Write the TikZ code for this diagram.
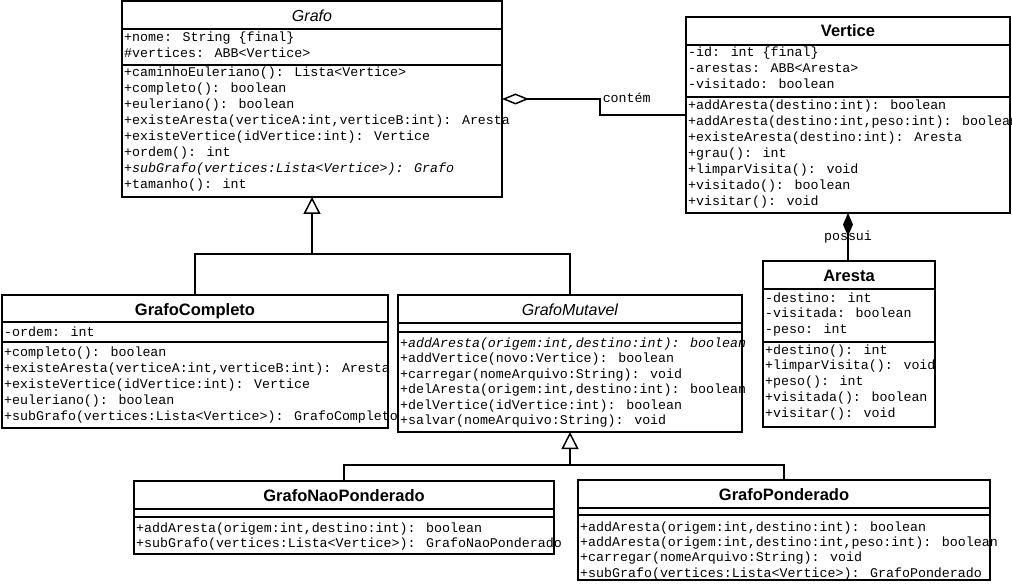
\documentclass[tikz,border=0pt]{standalone}
\usepackage{fontspec}
\setmainfont{Liberation Sans}
\newfontfamily\umlmono{Liberation Mono}
\usetikzlibrary{
    calc,
    positioning,
    arrows.meta
}
\tikzset{
    umlbox/.style={draw, line width=1.5pt, rectangle, anchor=north west, inner sep=0pt, outer sep=0pt},
    umlsep/.style={line width=1.5pt},
    umltitle/.style={font=\fontsize{16.5}{18}\selectfont\bfseries, anchor=base, inner sep=0pt},
    umlabstract/.style={font=\fontsize{16}{18}\selectfont\itshape, anchor=base, inner sep=0pt},
    umlmember/.style={font=\umlmono\fontsize{13.3}{16}\selectfont, anchor=base west, inner sep=0pt},
    umllink/.style={line width=1.5pt},
    inherit/.style={umllink, -{Triangle[open, length=17pt, width=17pt]}},
    aggreg/.style={umllink, {Diamond[open, length=27pt, width=11pt]}-},
    compos/.style={umllink, {Diamond[length=23pt, width=10pt]}-},
}
\begin{document}
\begin{tikzpicture}[x=1pt, y=-1pt]
    \useasboundingbox (0,0) rectangle (1012,585);
    % class boxes
    \node[umlbox, minimum width=380pt, minimum height=196pt] (grafo) at (122,1) {};
    \node[umlbox, minimum width=324pt, minimum height=196pt] (vertice) at (686,17) {};
    \node[umlbox, minimum width=172pt, minimum height=166pt] (aresta) at (763,261) {};
    \node[umlbox, minimum width=386pt, minimum height=133pt] (gcompleto) at (2,295) {};
    \node[umlbox, minimum width=344pt, minimum height=137pt] (gmutavel) at (398,295) {};
    \node[umlbox, minimum width=420pt, minimum height=73pt] (gnaopond) at (134,481) {};
    \node[umlbox, minimum width=412pt, minimum height=100pt] (gpond) at (578,480) {};
    % titles
    \node[umlabstract] (grafo-t) at ($(grafo.north)+(0,20.5)$) {Grafo};
    \node[umltitle] (vertice-t) at ($(vertice.north)+(0,20)$) {Vertice};
    \node[umltitle] (aresta-t) at ($(aresta.north)+(0,20.5)$) {Aresta};
    \node[umltitle] (gcompleto-t) at ($(gcompleto.north)+(0,21)$) {GrafoCompleto};
    \node[umlabstract] (gmutavel-t) at ($(gmutavel.north)+(0,21)$) {GrafoMutavel};
    \node[umltitle] (gnaopond-t) at ($(gnaopond.north)+(0,20.5)$) {GrafoNaoPonderado};
    \node[umltitle] (gpond-t) at ($(gpond.north)+(0,20.5)$) {GrafoPonderado};
    % compartments
    \draw[umlsep] (122,29) -- (502,29) (122,65) -- (502,65);
    \draw[umlsep] (686,45) -- (1010,45) (686,97) -- (1010,97);
    \draw[umlsep] (763,289) -- (935,289) (763,342) -- (935,342);
    \draw[umlsep] (2,322) -- (388,322) (2,342) -- (388,342);
    \draw[umlsep] (398,323) -- (742,323) (398,332) -- (742,332);
    \draw[umlsep] (134,509) -- (554,509) (134,517) -- (554,517);
    \draw[umlsep] (578,508) -- (990,508) (578,515) -- (990,515);
    % Grafo
    \foreach \m [count=\i] in {+nome: String \{final\}, \#vertices: ABB<Vertice>}
        \node[umlmember] (grafo-a\i) at (124,26+16*\i) {\m};
    \foreach \m [count=\i] in {+caminhoEuleriano(): Lista<Vertice>, +completo(): boolean, +euleriano(): boolean,
        {+existeAresta(verticeA:int,verticeB:int): Aresta}, +existeVertice(idVertice:int): Vertice, +ordem(): int,
        {\itshape +subGrafo(vertices:Lista<Vertice>): Grafo}, +tamanho(): int}
        \node[umlmember] (grafo-m\i) at (124,61+16*\i) {\m};
    % Vertice
    \foreach \m [count=\i] in {-id: int \{final\}, -arestas: ABB<Aresta>, -visitado: boolean}
        \node[umlmember] (vertice-a\i) at (688,41+16*\i) {\m};
    \foreach \m [count=\i] in {+addAresta(destino:int): boolean, {+addAresta(destino:int,peso:int): boolean},
        +existeAresta(destino:int): Aresta, +grau(): int, +limparVisita(): void, +visitado(): boolean, +visitar(): void}
        \node[umlmember] (vertice-m\i) at (688,94+16*\i) {\m};
    % Aresta
    \foreach \m [count=\i] in {-destino: int, -visitada: boolean, -peso: int}
        \node[umlmember] (aresta-a\i) at (765,286+16*\i) {\m};
    \foreach \m [count=\i] in {+destino(): int, +limparVisita(): void, +peso(): int, +visitada(): boolean, +visitar(): void}
        \node[umlmember] (aresta-m\i) at (765,338.2+15.8*\i) {\m};
    % GrafoCompleto
    \node[umlmember] (gcompleto-a1) at (4,337) {-ordem: int};
    \foreach \m [count=\i] in {+completo(): boolean, {+existeAresta(verticeA:int,verticeB:int): Aresta},
        +existeVertice(idVertice:int): Vertice, +euleriano(): boolean, +subGrafo(vertices:Lista<Vertice>): GrafoCompleto}
        \node[umlmember] (gcompleto-m\i) at (4,340+16*\i) {\m};
    % GrafoMutavel
    \foreach \m [count=\i] in {{\itshape +addAresta(origem:int,destino:int): boolean}, +addVertice(novo:Vertice): boolean,
        +carregar(nomeArquivo:String): void, {+delAresta(origem:int,destino:int): boolean},
        +delVertice(idVertice:int): boolean, +salvar(nomeArquivo:String): void}
        \node[umlmember] (gmutavel-m\i) at (400,331.5+15.5*\i) {\m};
    % GrafoNaoPonderado
    \foreach \m [count=\i] in {{+addAresta(origem:int,destino:int): boolean}, +subGrafo(vertices:Lista<Vertice>): GrafoNaoPonderado}
        \node[umlmember] (gnaopond-m\i) at (136,517+15*\i) {\m};
    % GrafoPonderado
    \foreach \m [count=\i] in {{+addAresta(origem:int,destino:int): boolean}, {+addAresta(origem:int,destino:int,peso:int): boolean},
        +carregar(nomeArquivo:String): void, +subGrafo(vertices:Lista<Vertice>): GrafoPonderado}
        \node[umlmember] (gpond-m\i) at (580,515.6+15.4*\i) {\m};
    % relations
    \coordinate (split1) at ($(grafo.south)+(0,57)$);
    \draw[umllink] (gcompleto.north) |- (split1) -| (gmutavel.north);
    \draw[inherit] (split1) -- (grafo.south);
    \coordinate (split2) at ($(gmutavel.south)+(0,33)$);
    \draw[umllink] (gnaopond.north) |- (split2) -| (gpond.north);
    \draw[inherit] (split2) -- (gmutavel.south);
    \draw[aggreg] (grafo.east) -- ++(98,0) node[umlmember, xshift=2pt, yshift=-4pt] (contem) {contém} |- (vertice.west);
    \draw[compos] (vertice.south) -- (vertice.south |- aresta.north)
        node[midway, umlmember, anchor=base, yshift=-4pt] (possui) {possui};
\end{tikzpicture}
\end{document}
